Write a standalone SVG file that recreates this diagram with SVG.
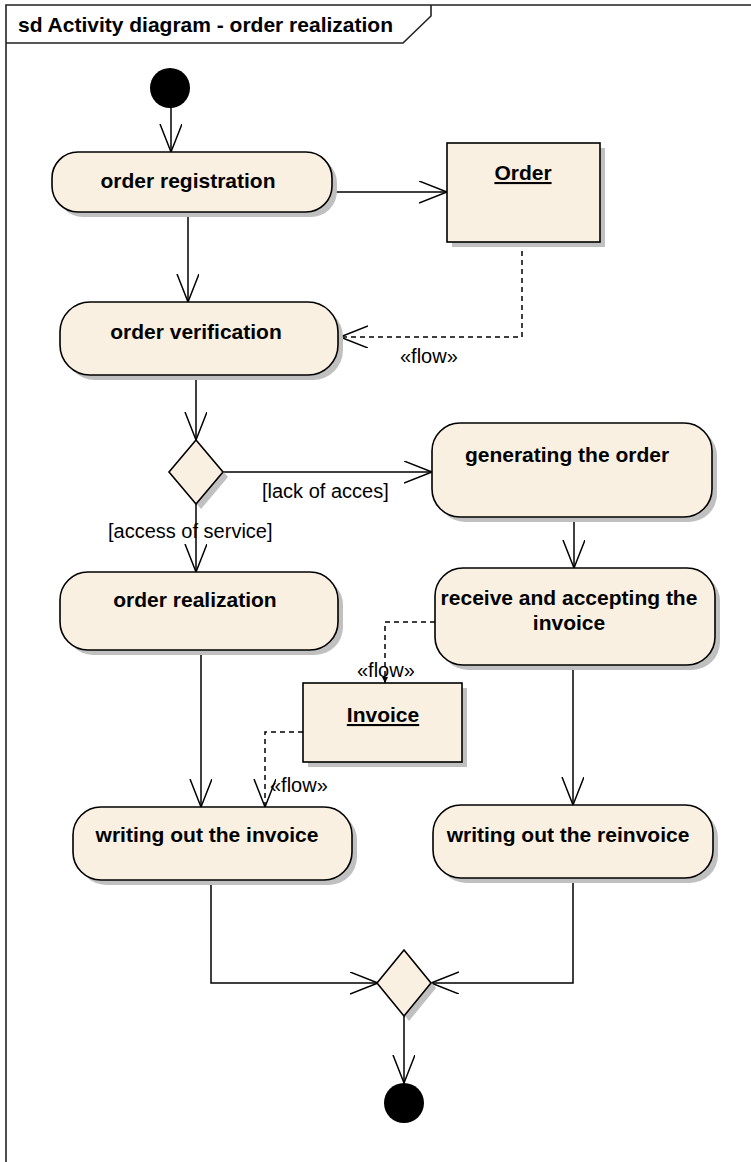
<svg xmlns="http://www.w3.org/2000/svg" width="751" height="1162" viewBox="0 0 751 1162">
  <style>
    .frame { fill: none; stroke: #222; stroke-width: 1.6; }
    .shadow { fill: #c0c0c0; stroke: none; }
    .act { fill: #faf0e2; stroke: #000; stroke-width: 1.6; }
    .obj { fill: #faf0e2; stroke: #000; stroke-width: 1.6; }
    .dec { fill: #faf0e2; stroke: #000; stroke-width: 1.6; }
    .dot { fill: #000; stroke: none; }
    .edge { fill: none; stroke: #000; stroke-width: 1.5; }
    .dash { fill: none; stroke: #000; stroke-width: 1.5; stroke-dasharray: 5 4; }
    .lbl { font-family: "Liberation Sans", Arial, sans-serif; font-size: 21px; font-weight: bold; fill: #000; text-anchor: middle; }
    .title { font-family: "Liberation Sans", Arial, sans-serif; font-size: 21px; font-weight: bold; fill: #000; }
    .guard { font-family: "Liberation Sans", Arial, sans-serif; font-size: 20px; fill: #000; }
  </style>
  <defs>
    <marker id="open" markerUnits="userSpaceOnUse" markerWidth="32" markerHeight="26" refX="28" refY="11" orient="auto">
      <path d="M0,0 L28,11 L0,22" fill="none" stroke="#000" stroke-width="1.5"/>
    </marker>
    <marker id="tiny" markerUnits="userSpaceOnUse" markerWidth="8" markerHeight="8" refX="6" refY="3" orient="auto">
      <path d="M0,0 L6,3 L0,6 Z" fill="#000"/>
    </marker>
  </defs>

  <!-- diagram frame with name tab -->
  <g id="frame">
    <path class="frame" d="M6,1162 L6,5 L751,5"/>
    <path class="frame" d="M6,43 L403,43 L431,16 L431,5"/>
    <text class="title" x="18" y="32">sd Activity diagram - order realization</text>
  </g>

  <!-- control flows and object flows -->
  <g id="connectors">
    <path class="edge" d="M171,107 L171,152" marker-end="url(#open)"/>
    <path class="edge" d="M188,212 L188,302" marker-end="url(#open)"/>
    <path class="edge" d="M332,192 L447,192" marker-end="url(#open)"/>
    <path class="dash" d="M522,242 L522,337 L340,337" marker-end="url(#open)"/>
    <text class="guard" x="400" y="363">«flow»</text>
    <path class="edge" d="M196,375 L196,440" marker-end="url(#open)"/>
    <path class="edge" d="M223,472 L432,472" marker-end="url(#open)"/>
    <text class="guard" x="262" y="498">[lack of acces]</text>
    <path class="edge" d="M196,504 L196,572" marker-end="url(#open)"/>
    <text class="guard" x="108" y="538">[access of service]</text>
    <path class="edge" d="M574,517 L574,568" marker-end="url(#open)"/>
    <path class="dash" d="M435,622 L385,622 L385,683" marker-end="url(#tiny)"/>
    <text class="guard" x="357" y="677">«flow»</text>
    <path class="edge" d="M201,650 L201,807" marker-end="url(#open)"/>
    <path class="dash" d="M303,732 L265,732 L265,807" marker-end="url(#open)"/>
    <text class="guard" x="270" y="792">«flow»</text>
    <path class="edge" d="M573,665 L573,805" marker-end="url(#open)"/>
    <path class="edge" d="M211,880 L211,983 L378,983" marker-end="url(#open)"/>
    <path class="edge" d="M573,878 L573,983 L431,983" marker-end="url(#open)"/>
    <path class="edge" d="M404,1016 L404,1083" marker-end="url(#open)"/>
  </g>

  <g id="initial">
    <circle class="dot" cx="170" cy="88" r="20"/>
  </g>

  <g id="order-registration">
    <rect class="shadow" x="57" y="157" width="280" height="60" rx="26"/>
    <rect class="act" x="52" y="152" width="280" height="60" rx="26"/>
    <text class="lbl" x="188" y="188">order registration</text>
  </g>

  <g id="order-object">
    <rect class="shadow" x="452" y="148" width="153" height="99"/>
    <rect class="obj" x="447" y="143" width="153" height="99"/>
    <text class="lbl" x="523" y="180" text-decoration="underline">Order</text>
  </g>

  <g id="order-verification">
    <rect class="shadow" x="65" y="307" width="278" height="73" rx="30"/>
    <rect class="act" x="60" y="302" width="278" height="73" rx="30"/>
    <text class="lbl" x="196" y="339">order verification</text>
  </g>

  <g id="decision">
    <path class="shadow" d="M201,445 L228,477 L201,509 L174,477 Z"/>
    <path class="dec" d="M196,440 L223,472 L196,504 L169,472 Z"/>
  </g>

  <g id="generating-order">
    <rect class="shadow" x="437" y="428" width="280" height="94" rx="28"/>
    <rect class="act" x="432" y="423" width="280" height="94" rx="28"/>
    <text class="lbl" x="567" y="462">generating the order</text>
  </g>

  <g id="receive-invoice">
    <rect class="shadow" x="440" y="573" width="280" height="97" rx="28"/>
    <rect class="act" x="435" y="568" width="280" height="97" rx="28"/>
    <text class="lbl" x="569" y="605">receive and accepting the</text>
    <text class="lbl" x="569" y="630">invoice</text>
  </g>

  <g id="order-realization">
    <rect class="shadow" x="65" y="577" width="278" height="78" rx="28"/>
    <rect class="act" x="60" y="572" width="278" height="78" rx="28"/>
    <text class="lbl" x="195" y="607">order realization</text>
  </g>

  <g id="invoice-object">
    <rect class="shadow" x="308" y="688" width="159" height="79"/>
    <rect class="obj" x="303" y="683" width="159" height="79"/>
    <text class="lbl" x="383" y="722" text-decoration="underline">Invoice</text>
  </g>

  <g id="writing-invoice">
    <rect class="shadow" x="78" y="812" width="279" height="73" rx="28"/>
    <rect class="act" x="73" y="807" width="279" height="73" rx="28"/>
    <text class="lbl" x="207" y="842">writing out the invoice</text>
  </g>

  <g id="writing-reinvoice">
    <rect class="shadow" x="438" y="810" width="280" height="73" rx="28"/>
    <rect class="act" x="433" y="805" width="280" height="73" rx="28"/>
    <text class="lbl" x="568" y="842">writing out the reinvoice</text>
  </g>

  <g id="merge">
    <path class="shadow" d="M409,955 L436,988 L409,1021 L382,988 Z"/>
    <path class="dec" d="M404,950 L431,983 L404,1016 L377,983 Z"/>
  </g>

  <g id="final">
    <circle class="dot" cx="404" cy="1103" r="20"/>
  </g>
</svg>
